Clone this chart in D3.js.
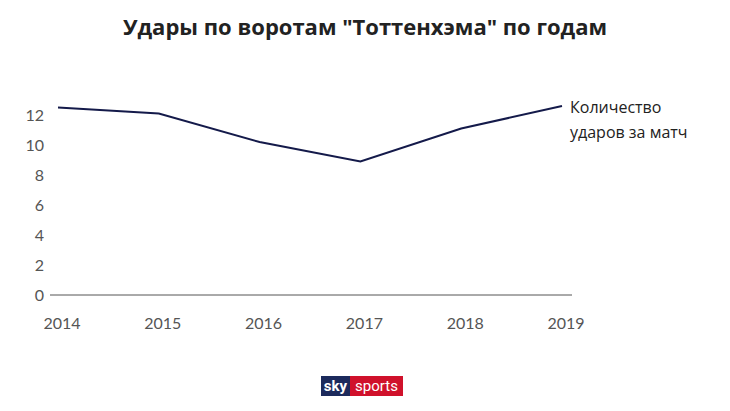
<!DOCTYPE html><html><head><meta charset="utf-8">
<script src="https://cdn.jsdelivr.net/npm/d3@7"></script>
<style>body{margin:0;background:#fff}</style></head><body><svg id="c" width="730" height="411"></svg>
<script>
const years=["2014","2015","2016","2017","2018","2019"];
const shots=[12.5,12.1,10.2,8.9,11.1,12.6];
const yTicks=[0,2,4,6,8,10,12];
const svg=d3.select("#c");
const x=d3.scalePoint().domain(years).range([58,562]);
const y=d3.scaleLinear().domain([0,12]).range([295,115]);
svg.append("text").attr("x",365).attr("y",35).attr("text-anchor","middle").attr("font-family","Open Sans").attr("font-weight","bold").attr("font-size",22).attr("fill","#222").text('Удары по воротам "Тоттенхэма" по годам');
svg.append("line").attr("x1",50).attr("x2",572).attr("y1",y(0)).attr("y2",y(0)).attr("stroke","#555").attr("stroke-width",1);
svg.selectAll(".yt").data(yTicks).join("text").attr("x",44).attr("y",d=>y(d)+6).attr("text-anchor","end").attr("font-family","Lato").attr("font-size",16).attr("fill","#555").text(d=>d);
svg.selectAll(".xt").data(years).join("text").attr("x",d=>x(d)+4).attr("y",329).attr("text-anchor","middle").attr("font-family","Lato").attr("font-size",16).attr("fill","#555").text(d=>d);
svg.append("path").datum(shots).attr("fill","none").attr("stroke","#141a4a").attr("stroke-width",2).attr("d",d3.line().x((d,i)=>x(years[i])).y(d=>y(d)));
const lg=svg.append("text").attr("font-family","Open Sans").attr("font-size",16).attr("fill","#222");
lg.append("tspan").attr("x",570).attr("y",113).text("Количество");
lg.append("tspan").attr("x",570).attr("y",138).text("ударов за матч");
const g=svg.append("g");
g.append("rect").attr("x",321).attr("y",376).attr("width",29).attr("height",20).attr("fill","#1c2a5c");
g.append("rect").attr("x",350).attr("y",376).attr("width",53).attr("height",20).attr("fill","#d0112b");
g.append("text").attr("x",335.5).attr("y",391).attr("text-anchor","middle").attr("font-family","Roboto").attr("font-weight","bold").attr("font-size",15).attr("fill","#fff").text("sky");
g.append("text").attr("x",376.5).attr("y",391).attr("text-anchor","middle").attr("font-family","Roboto").attr("font-size",15).attr("fill","#fff").text("sports");
</script></body></html>
